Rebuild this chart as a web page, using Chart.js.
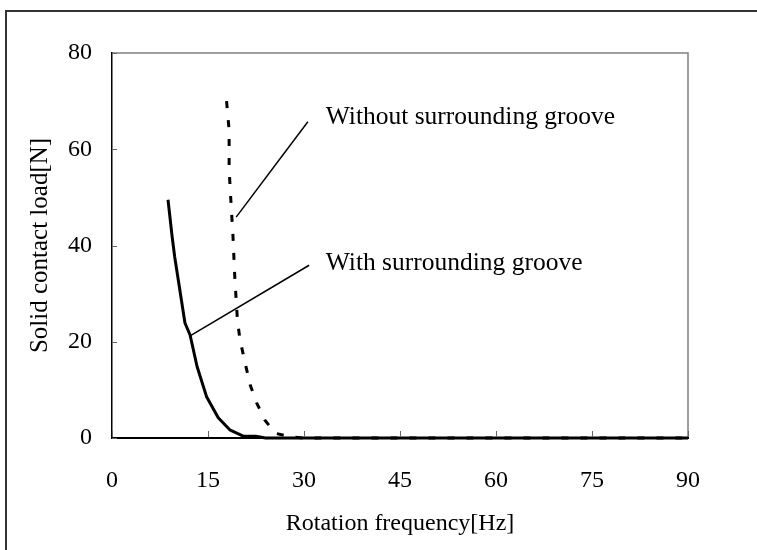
<!DOCTYPE html>
<html>
<head>
<meta charset="utf-8">
<script src="https://cdn.jsdelivr.net/npm/chart.js@4"></script>
<style>
html,body{margin:0;padding:0;background:#fff;}
#c{display:block;}
</style>
</head>
<body>
<canvas id="c" width="757" height="550"></canvas>
<script>
// ---- data ----
const xTicks = [0, 15, 30, 45, 60, 75, 90];
const yTicks = [0, 20, 40, 60, 80];
const withGrooveX = [8.75, 9.4, 9.8, 11.4, 12.2, 13.3, 14.8, 16.6, 18.4, 20.5, 22.5, 24, 90];
const withGrooveY = [49.5, 41.8, 37.6, 23.9, 21.4, 14.8, 8.5, 4.2, 1.7, 0.4, 0.35, 0, 0];
const withoutGrooveX = [17.9, 18.3, 18.3, 18.5, 18.9, 19.2, 19.6, 20.0, 20.8, 21.6, 22.6, 23.9, 25.5, 28, 30, 90];
const withoutGrooveY = [70, 64, 56, 51, 42, 33, 24.5, 20.4, 15.6, 11, 7.3, 3.7, 1, 0.2, 0, 0];
const labelWithout = "Without surrounding groove";
const labelWith = "With surrounding groove";

const FONT = "'Liberation Serif', 'Times New Roman', serif";

const annotations = [
  {text: labelWithout, tx: 33.4, ty: 65.2, from: [30.6, 65.7], to: [19.4, 45.9]},
  {text: labelWith, tx: 33.4, ty: 35.0, from: [30.8, 35.9], to: [12.2, 21.2]}
];

const framePlugin = {
  id: 'frame',
  beforeDraw(chart) {
    const {ctx, chartArea: a} = chart;
    ctx.save();
    ctx.fillStyle = '#fff';
    ctx.fillRect(0, 0, chart.width, chart.height);
    ctx.strokeStyle = '#333';
    ctx.lineWidth = 2;
    ctx.beginPath();
    ctx.moveTo(6, chart.height);
    ctx.lineTo(6, 11);
    ctx.lineTo(chart.width, 11);
    ctx.stroke();
    ctx.strokeStyle = '#808080';
    ctx.lineWidth = 1.5;
    ctx.beginPath();
    ctx.moveTo(a.left, a.top);
    ctx.lineTo(a.right, a.top);
    ctx.lineTo(a.right, a.bottom);
    ctx.stroke();
    ctx.restore();
  },
  afterDraw(chart) {
    const {ctx, chartArea: a, scales: {x, y}} = chart;
    ctx.save();
    ctx.strokeStyle = '#666';
    ctx.lineWidth = 1;
    x.ticks.forEach(t => {
      const px = Math.round(x.getPixelForValue(t.value)) + 0.5;
      ctx.beginPath(); ctx.moveTo(px, a.bottom - 1); ctx.lineTo(px, a.bottom - 7); ctx.stroke();
    });
    y.ticks.forEach(t => {
      const py = Math.round(y.getPixelForValue(t.value)) + 0.5;
      ctx.beginPath(); ctx.moveTo(a.left, py); ctx.lineTo(a.left + 5, py); ctx.stroke();
    });
    ctx.strokeStyle = '#000';
    ctx.lineWidth = 1.5;
    ctx.fillStyle = '#000';
    ctx.font = "25.5px " + FONT;
    ctx.textBaseline = 'alphabetic';
    ctx.textAlign = 'left';
    annotations.forEach(an => {
      ctx.beginPath();
      ctx.moveTo(x.getPixelForValue(an.from[0]), y.getPixelForValue(an.from[1]));
      ctx.lineTo(x.getPixelForValue(an.to[0]), y.getPixelForValue(an.to[1]));
      ctx.stroke();
      ctx.fillText(an.text, x.getPixelForValue(an.tx), y.getPixelForValue(an.ty));
    });
    ctx.restore();
  }
};

const toPts = (xs, ys) => xs.map((v, i) => ({x: v, y: ys[i]}));

new Chart(document.getElementById('c'), {
  type: 'scatter',
  data: {
    datasets: [
      {label: labelWith, data: toPts(withGrooveX, withGrooveY), showLine: true, borderColor: '#000',
       borderWidth: 3, pointRadius: 0, tension: 0, borderCapStyle: 'butt', borderJoinStyle: 'round', clip: false},
      {label: labelWithout, data: toPts(withoutGrooveX, withoutGrooveY), showLine: true, borderColor: '#000',
       borderWidth: 3, pointRadius: 0, tension: 0, borderDash: [7, 12], borderCapStyle: 'butt', clip: false}
    ]
  },
  options: {
    responsive: false,
    animation: false,
    events: [],
    layout: {padding: {top: 53, right: 69, left: 0, bottom: 0}},
    plugins: {legend: {display: false}, tooltip: {enabled: false}},
    scales: {
      x: {
        type: 'linear', min: 0, max: 90,
        afterBuildTicks(s) { s.ticks = xTicks.map(v => ({value: v})); },
        afterFit(s) { s.height = 112; },
        ticks: {color: '#000', font: {family: FONT, size: 24}, padding: 28, maxRotation: 0},
        grid: {drawOnChartArea: false, drawTicks: false},
        border: {display: true, color: '#000', width: 2},
        title: {display: true, text: 'Rotation frequency[Hz]', color: '#000',
                font: {family: FONT, size: 24}, padding: {top: 0, bottom: 12}}
      },
      y: {
        type: 'linear', min: 0, max: 80,
        afterBuildTicks(s) { s.ticks = yTicks.map(v => ({value: v})); },
        afterFit(s) { s.width = 112; },
        ticks: {color: '#000', font: {family: FONT, size: 24}, padding: 20},
        grid: {drawOnChartArea: false, drawTicks: false},
        border: {display: true, color: '#000', width: 1.5},
        title: {display: true, text: 'Solid contact load[N]', color: '#000',
                font: {family: FONT, size: 25}, padding: {top: 25, bottom: 0}}
      }
    }
  },
  plugins: [framePlugin]
});
</script>
</body>
</html>
